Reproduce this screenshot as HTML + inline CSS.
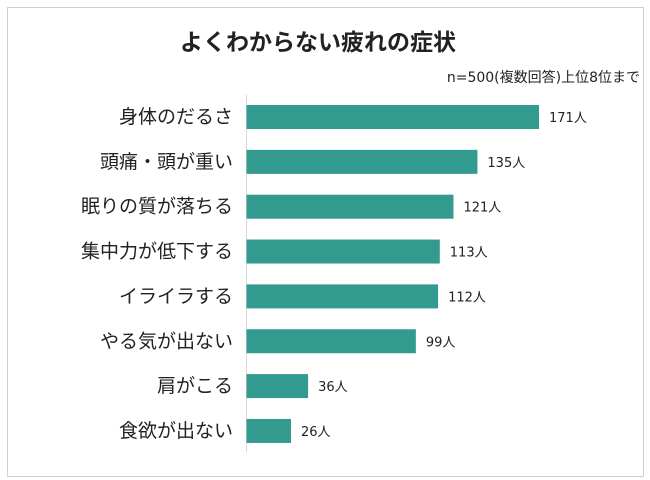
<!DOCTYPE html>
<html><head><meta charset="utf-8"><style>
body{margin:0;width:650px;height:480px;background:#fff;font-family:"Liberation Sans","Noto Sans CJK JP",sans-serif;overflow:hidden}
#frame{position:absolute;left:7px;top:7px;width:635px;height:468px;border:1px solid #d0d0d0}
</style></head><body>
<div id="frame"></div>
<svg id="c" width="650" height="480" style="position:absolute;left:0;top:0">
<text x="318" y="50" text-anchor="middle" font-size="23" font-weight="bold" fill="#222">よくわからない疲れの症状</text>
<text x="640" y="82" text-anchor="end" font-size="14" fill="#222" font-family="DejaVu Sans, Noto Sans CJK JP, sans-serif">n=500(複数回答)上位8位まで</text>
<line x1="246.5" y1="95" x2="246.5" y2="452" stroke="#d9d9d9" stroke-width="1"/>
</svg>
<script>
const categories=["身体のだるさ","頭痛・頭が重い","眠りの質が落ちる","集中力が低下する","イライラする","やる気が出ない","肩がこる","食欲が出ない"];
const values=[171,135,121,113,112,99,36,26];
const unit="人";
const svg=document.getElementById('c');
const NS="http://www.w3.org/2000/svg";
const x0=246.5, scale=(539-246.5)/171;
const yC=i=>117+i*44.85;
const xS=v=>x0+v*scale;
categories.forEach((c,i)=>{
 const y=yC(i);
 const t=document.createElementNS(NS,'text');
 t.setAttribute('x',233);t.setAttribute('y',y+6);t.setAttribute('text-anchor','end');
 t.setAttribute('font-size','19');t.setAttribute('fill','#222');t.textContent=c;
 
 
 svg.appendChild(t);
 const r=document.createElementNS(NS,'rect');
 r.setAttribute('x',x0);r.setAttribute('y',y-12);r.setAttribute('width',xS(values[i])-x0);r.setAttribute('height',24);
 r.setAttribute('fill','#329a8e');
 
 
 svg.appendChild(r);
 const v=document.createElementNS(NS,'text');
 v.setAttribute('x',xS(values[i])+10);v.setAttribute('y',y+5);
 v.setAttribute('font-size','13');v.setAttribute('fill','#222');v.textContent=values[i]+unit;
 v.setAttribute('font-family','DejaVu Sans, Noto Sans CJK JP, sans-serif');
 
 
 svg.appendChild(v);
});
</script>
</body></html>
